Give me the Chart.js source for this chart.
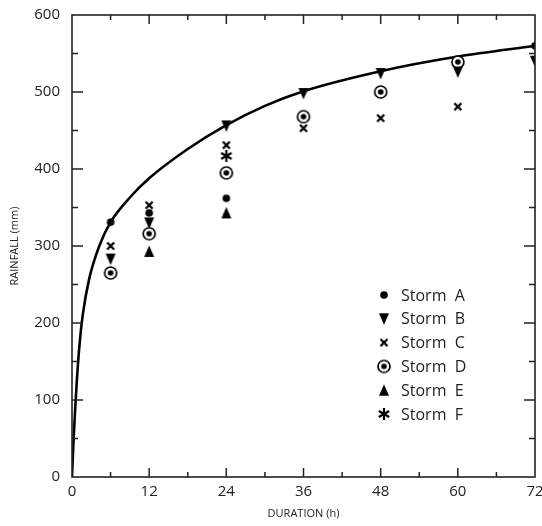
<!DOCTYPE html>
<html>
<head>
<meta charset="utf-8">
<script src="https://cdn.jsdelivr.net/npm/chart.js@4.4.1/dist/chart.umd.min.js"></script>
<style>
  html, body { margin: 0; padding: 0; background: #fff; }
  #wrap { width: 542px; height: 526px; }
</style>
</head>
<body>
<div id="wrap"><canvas id="c" width="542" height="526"></canvas></div>
<script>
// ---- Data ----
const durations = [6, 12, 24, 36, 48, 60, 72];
const stormA = [331, 343, 362, null, null, null, 560];
const stormB = [283, 330, 456, 498, 524, 526, 540];
const stormC = [300, 353, 431, 453, 466, 481, null];
const stormD = [265, 316, 395, 468, 500, 539, null];
const stormE = [null, 293, 343, null, null, null, null];
const stormF = [null, null, 417, null, null, null, null];
const stormLabels = ['Storm  A', 'Storm  B', 'Storm  C', 'Storm  D', 'Storm  E', 'Storm  F'];

// Fitted curve
const curveHours = [0, 0.2, 0.47, 0.73, 1.13, 1.66, 2.69, 4.24, 6, 9, 12, 18, 24, 30, 36, 48, 60, 72];
const curveRain  = [0, 40, 85, 122, 168, 210, 258, 300, 331, 363, 388, 426, 457, 482, 501, 527, 546, 560];

const xTickLabels = [0, 12, 24, 36, 48, 60, 72];
const yTickLabels = [0, 100, 200, 300, 400, 500, 600];

// ---- Marker images ----
function mk(w, h, draw) {
  const c = document.createElement('canvas');
  c.width = w; c.height = h;
  const g = c.getContext('2d');
  g.fillStyle = '#000'; g.strokeStyle = '#000';
  draw(g, w, h);
  return c;
}
const mA = mk(10, 10, g => { g.beginPath(); g.arc(5, 5, 3.8, 0, Math.PI * 2); g.fill(); });
const mB = mk(12, 13, g => { g.beginPath(); g.moveTo(1, 1); g.lineTo(11, 1); g.lineTo(6, 12.5); g.closePath(); g.fill(); });
const mC = mk(10, 10, g => { g.lineWidth = 2.3; g.beginPath(); g.moveTo(1.5, 1.5); g.lineTo(8.5, 8.5); g.moveTo(8.5, 1.5); g.lineTo(1.5, 8.5); g.stroke(); });
const mD = mk(16, 16, g => {
  g.fillStyle = '#fff'; g.beginPath(); g.arc(8, 8, 6.1, 0, Math.PI * 2); g.fill();
  g.lineWidth = 1.7; g.beginPath(); g.arc(8, 8, 6.0, 0, Math.PI * 2); g.stroke();
  g.fillStyle = '#000'; g.beginPath(); g.arc(8, 8, 2.8, 0, Math.PI * 2); g.fill();
});
const mE = mk(12, 13, g => { g.beginPath(); g.moveTo(1, 12); g.lineTo(11, 12); g.lineTo(6, 0.5); g.closePath(); g.fill(); });
const mF = mk(14, 14, g => {
  g.lineWidth = 2.2; g.beginPath();
  for (let k = 0; k < 3; k++) {
    const a = Math.PI / 2 + k * Math.PI / 3;
    g.moveTo(7 + 6 * Math.cos(a), 7 + 6 * Math.sin(a));
    g.lineTo(7 - 6 * Math.cos(a), 7 - 6 * Math.sin(a));
  }
  g.stroke();
});
const markers = [mA, mB, mC, mD, mE, mF];
const stormSeries = [stormA, stormB, stormC, stormD, stormE, stormF];

const toXY = (xs, ys) => xs.map((x, i) => ({ x: x, y: ys[i] })).filter(p => p.y !== null);

const datasets = [{
  type: 'line',
  label: 'curve',
  data: toXY(curveHours, curveRain),
  borderColor: '#000',
  borderWidth: 2.6,
  pointRadius: 0,
  cubicInterpolationMode: 'monotone',
  fill: false,
  order: 10
}];
stormSeries.forEach((s, i) => {
  datasets.push({
    type: 'scatter',
    label: stormLabels[i],
    data: toXY(durations, s),
    pointStyle: markers[i],
    pointRadius: 6,
    order: 1
  });
});

const FONT = '"Open Sans", "DejaVu Sans", sans-serif';

const framePlugin = {
  id: 'frame',
  afterDraw(chart) {
    const { ctx, chartArea: a, scales: { x, y } } = chart;
    ctx.save();
    ctx.strokeStyle = '#222';
    ctx.lineWidth = 1.6;
    ctx.strokeRect(a.left, a.top, a.right - a.left, a.bottom - a.top);
    ctx.lineWidth = 1.5;
    ctx.beginPath();
    for (let v = 6; v < 72; v += 6) {
      const px = x.getPixelForValue(v);
      const len = (v % 12 === 0) ? 9 : 5;
      ctx.moveTo(px, a.bottom); ctx.lineTo(px, a.bottom - len);
      ctx.moveTo(px, a.top); ctx.lineTo(px, a.top + len);
    }
    for (let v = 50; v < 600; v += 50) {
      const py = y.getPixelForValue(v);
      const len = (v % 100 === 0) ? 11 : 6;
      ctx.moveTo(a.left, py); ctx.lineTo(a.left + len, py);
      ctx.moveTo(a.right, py); ctx.lineTo(a.right - len, py);
    }
    ctx.stroke();

    // legend
    const lx = 384, tx = 401, y0 = 295, dy = 23.8;
    ctx.font = '16px ' + FONT;
    ctx.fillStyle = '#222';
    ctx.textBaseline = 'middle';
    ctx.textAlign = 'left';
    chart.data.datasets.forEach((ds, i) => {
      if (ds.type !== 'scatter') return;
      const k = i - 1;
      const cy = y0 + k * dy;
      const img = ds.pointStyle;
      ctx.drawImage(img, lx - img.width / 2, cy - img.height / 2);
      ctx.fillText(ds.label, tx, cy + 1);
    });
    ctx.restore();
  }
};

new Chart(document.getElementById('c'), {
  data: { datasets },
  options: {
    responsive: false,
    animation: false,
    layout: { padding: { top: 15, right: 6, left: 0, bottom: 0 } },
    plugins: { legend: { display: false }, tooltip: { enabled: false } },
    scales: {
      x: {
        type: 'linear',
        min: 0, max: 72,
        afterBuildTicks(scale) { scale.ticks = xTickLabels.map(v => ({ value: v })); },
        afterFit(scale) { scale.height = 49; scale.paddingLeft = 0; scale.paddingRight = 0; },
        grid: { display: false, drawTicks: false },
        border: { display: false },
        ticks: { color: '#222', font: { family: FONT, size: 15 }, padding: 6, maxRotation: 0, autoSkip: false },
        title: { display: true, text: 'DURATION (h)', color: '#222', font: { family: FONT, size: 11 }, padding: { top: 0, bottom: 6 } }
      },
      y: {
        type: 'linear',
        min: 0, max: 600,
        afterBuildTicks(scale) { scale.ticks = yTickLabels.map(v => ({ value: v })); },
        afterFit(scale) { scale.width = 72; scale.paddingTop = 0; scale.paddingBottom = 0; },
        grid: { display: false, drawTicks: false },
        border: { display: false },
        ticks: { color: '#222', font: { family: FONT, size: 15 }, padding: 12, autoSkip: false },
        title: { display: true, text: 'RAINFALL (mm)', color: '#222', font: { family: FONT, size: 11 }, padding: { top: 8, bottom: 0 } }
      }
    }
  },
  plugins: [framePlugin]
});
</script>
</body>
</html>
